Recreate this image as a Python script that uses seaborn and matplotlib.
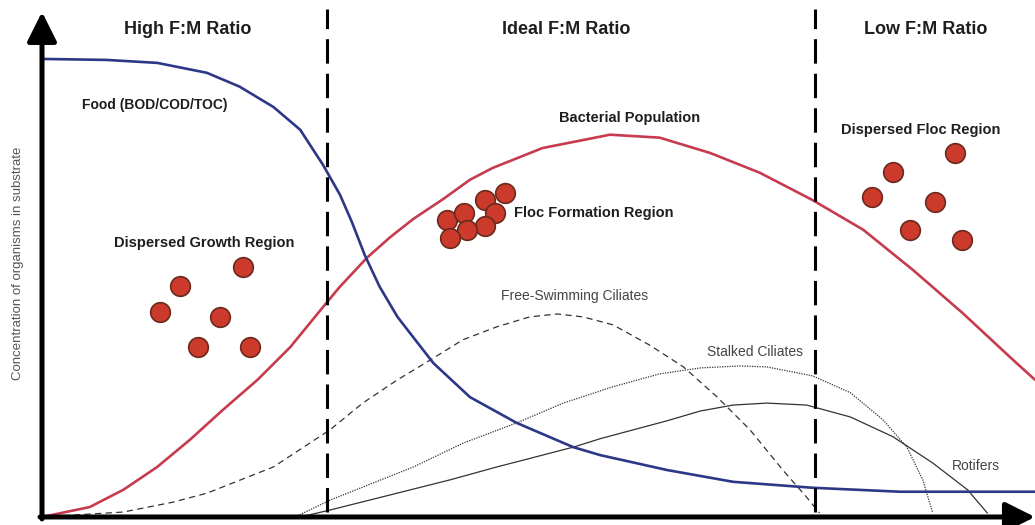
import numpy as np
import pandas as pd
import seaborn as sns
import matplotlib.pyplot as plt

# curve values (x = position along F:M axis 0-100, y = concentration 0-100)
food_x = [0, 6.5, 11.6, 16.6, 19.9, 23.3, 26.0, 28.3, 30.0, 31.2, 32.5, 34.0, 35.8, 39.4, 43.1, 47.8, 53.5, 56.2, 62.9, 69.6, 77.6, 86.4, 100]
food_y = [92.5, 92.3, 91.7, 89.7, 86.9, 82.8, 78.2, 71.1, 65.1, 59.6, 52.9, 46.5, 40.4, 31.1, 24.2, 19.0, 14.1, 12.5, 9.5, 7.1, 5.9, 5.1, 5.1]

bact_x = [0, 4.8, 8.2, 11.6, 14.9, 18.2, 21.7, 25.0, 28.3, 30.0, 32.7, 35.0, 37.4, 40.4, 43.1, 45.4, 50.4, 57.2, 62.2, 67.3, 72.3, 77.6, 82.7, 87.7, 92.7, 97.8, 100]
bact_y = [0, 2.0, 5.5, 10.1, 15.6, 21.6, 27.7, 34.3, 42.4, 46.5, 52.3, 56.4, 60.2, 64.2, 68.1, 70.5, 74.5, 77.2, 76.6, 73.5, 69.5, 64.0, 58.0, 49.9, 41.2, 31.7, 27.7]

free_x = [0, 8.2, 13.2, 16.6, 23.3, 29.0, 32.3, 35.8, 39.1, 42.4, 45.8, 49.1, 51.9, 54.5, 57.5, 61.2, 64.6, 68.0, 71.3, 74.6, 77.0, 78.3]
free_y = [0, 1.0, 3.0, 4.8, 10.1, 17.6, 23.0, 27.7, 31.7, 35.8, 38.4, 40.4, 41.0, 40.4, 38.8, 34.7, 30.3, 24.2, 17.6, 9.5, 4.0, 0.8]

stalk_x = [25.5, 29.0, 37.4, 42.4, 47.8, 52.5, 57.5, 62.2, 66.3, 70.3, 73.0, 77.6, 81.4, 84.7, 87.1, 88.7, 89.7]
stalk_y = [0, 3.4, 10.1, 14.9, 19.0, 23.0, 26.3, 28.9, 30.1, 30.5, 30.3, 28.5, 25.1, 19.6, 14.1, 7.5, 0.8]

rot_x = [26.0, 29.0, 41.1, 45.8, 53.5, 56.2, 62.9, 66.3, 69.6, 73.0, 77.0, 81.4, 85.7, 89.7, 93.2, 95.2]
rot_y = [0, 1.4, 7.5, 10.1, 14.1, 15.8, 19.4, 21.4, 22.6, 23.0, 22.6, 20.2, 16.2, 10.9, 5.5, 0.8]

# F:M boundaries
bounds = [28.7, 77.8]
regions = ["High F:M Ratio", "Ideal F:M Ratio", "Low F:M Ratio"]
region_x = [14.7, 52.8, 89.0]

# floc particles
growth_x = [20.2, 13.9, 11.9, 17.9, 15.7, 20.9]
growth_y = [50.5, 46.7, 41.4, 40.4, 34.3, 34.3]
floc_x = [40.8, 42.5, 44.6, 46.6, 45.6, 44.6, 42.8, 41.1]
floc_y = [60.0, 61.4, 64.0, 65.5, 61.4, 58.8, 58.0, 56.4]
disp_x = [91.9, 85.7, 83.6, 89.9, 87.4, 92.6]
disp_y = [73.5, 69.7, 64.6, 63.6, 58.0, 56.0]

sns.set_theme(style="white")
plt.rcParams["font.family"] = ["Liberation Sans", "DejaVu Sans"]

fig = plt.figure(figsize=(10.35, 5.25), dpi=100)
ax = fig.add_axes([0, 0, 1, 1])
ax.set_xlim(-4.23, 100)
ax.set_ylim(-1.62, 104.4)
ax.axis("off")

thin = "#333333"
sns.lineplot(x=free_x, y=free_y, ax=ax, color=thin, lw=0.9, linestyle=(0, (5, 3.5)), sort=False)
sns.lineplot(x=stalk_x, y=stalk_y, ax=ax, color=thin, lw=0.9, linestyle=(0, (1, 1)), sort=False)
sns.lineplot(x=rot_x, y=rot_y, ax=ax, color=thin, lw=0.9, sort=False)
sns.lineplot(x=bact_x, y=bact_y, ax=ax, color="#c63b4e", lw=1.9, sort=False)
sns.lineplot(x=food_x, y=food_y, ax=ax, color="#2c3887", lw=1.9, sort=False)

for b in bounds:
    ax.plot([b, b], [1, 102.5], color="black", lw=2.2, linestyle=(0, (8, 3.3)))

dots = pd.DataFrame({"x": growth_x + floc_x + disp_x, "y": growth_y + floc_y + disp_y})
sns.scatterplot(data=dots, x="x", y="y", ax=ax, s=200, color="#cc3a2c",
                edgecolor="#6b2a1e", linewidth=1.2, zorder=5)

# axes with arrow heads
arrow = dict(arrowstyle="-|>,head_width=0.45,head_length=0.9", lw=3.6, color="black",
             shrinkA=0, shrinkB=0, mutation_scale=20)
ax.annotate("", xy=(0, 102), xytext=(0, -0.4), arrowprops=arrow)
ax.annotate("", xy=(100, 0), xytext=(-0.2, 0), arrowprops=arrow)

txt = "#1e1e1e"
for lab, x in zip(regions, region_x):
    ax.text(x, 98.4, lab, ha="center", va="center", fontsize=13, fontweight="bold", color=txt)

ax.text(4.0, 83.2, "Food (BOD/COD/TOC)", ha="left", va="center", fontsize=10, fontweight="bold", color=txt)
ax.text(59.2, 80.6, "Bacterial Population", ha="center", va="center", fontsize=10.5, fontweight="bold", color=txt)
ax.text(47.5, 61.4, "Floc Formation Region", ha="left", va="center", fontsize=10.5, fontweight="bold", color=txt)
ax.text(88.5, 78.2, "Dispersed Floc Region", ha="center", va="center", fontsize=10.5, fontweight="bold", color=txt)
ax.text(16.3, 55.4, "Dispersed Growth Region", ha="center", va="center", fontsize=10.5, fontweight="bold", color=txt)
ax.text(53.6, 44.6, "Free-Swimming Ciliates", ha="center", va="center", fontsize=10, color="#444444")
ax.text(71.8, 33.3, "Stalked Ciliates", ha="center", va="center", fontsize=10, color="#444444")
ax.text(94.1, 10.3, "Rotifers", ha="center", va="center", fontsize=10, color="#444444")
ax.text(-2.4, 51.3, "Concentration of organisms in substrate", rotation=90, ha="center", va="center",
        fontsize=9.5, color="#555555")

fig.savefig("out.png", dpi=100)
